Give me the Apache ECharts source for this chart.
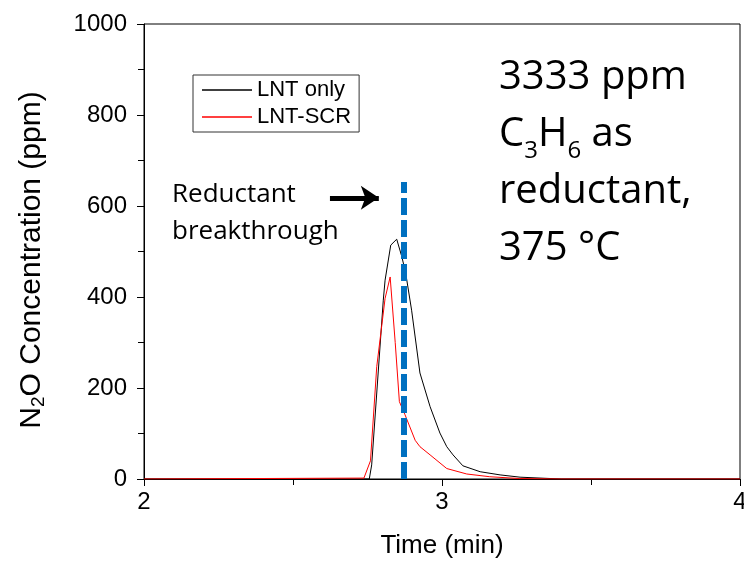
<!DOCTYPE html>
<html>
<head>
<meta charset="utf-8">
<script src="https://cdn.jsdelivr.net/npm/echarts@6/dist/echarts.min.js"></script>
<style>
html, body { margin: 0; padding: 0; background: #fff; }
#chartMain { width: 744px; height: 561px; }
</style>
</head>
<body>
<div id="chartMain"></div>
<script>
var myChart;
var option;

// LNT only (black)
var lntTime = [2, 2.756, 2.764, 2.803, 2.809, 2.828, 2.848, 2.865, 2.878, 2.898, 2.926, 2.960, 2.993, 3.016, 3.037, 3.070, 3.128, 3.195, 3.262, 3.40, 4];
var lntVals = [0, 0, 31, 393, 437, 514, 527, 489, 453, 371, 233, 159, 101, 71, 53, 29, 16, 9, 4, 0, 0];
// LNT-SCR (red)
var scrTime = [2, 2.738, 2.760, 2.781, 2.809, 2.826, 2.843, 2.857, 2.876, 2.910, 2.926, 2.960, 3.016, 3.083, 3.160, 3.260, 3.40, 4];
var scrVals = [0, 2, 40, 247, 397, 444, 300, 170, 141, 85, 71, 53, 23, 11, 5, 1, 0, 0];

var seriesNames = ['LNT only', 'LNT-SCR'];
var breakthroughTime = 2.872; // 还原剂穿透时刻
var breakthroughSpan = [0, 653];
var arrowFrom = [2.624, 618];
var arrowTo = [2.788, 618];

function pairs(xs, ys) {
	var out = [];
	for (var i = 0; i < xs.length; i++) {
		out.push([xs[i], ys[i]]);
	}
	return out;
}

var axisFont = 'Liberation Sans';
var noteFont = 'Open Sans';

myChart = echarts.init(document.getElementById('chartMain'));

option = {
	animation: false,
	backgroundColor: '#fff',
	grid: {
		left: 144, right: 4, top: 24, bottom: 82,
		outerBoundsMode: 'none',
		show: true, borderColor: '#000', borderWidth: 1
	},
	legend: {
		data: seriesNames,
		orient: 'vertical',
		left: 193, top: 75,
		padding: [4, 8, 4, 9],
		itemGap: 5,
		itemWidth: 50, itemHeight: 1.5,
		icon: 'rect',
		borderColor: '#333', borderWidth: 1,
		textStyle: { fontFamily: axisFont, fontSize: 22, lineHeight: 22, color: '#000' }
	},
	xAxis: {
		type: 'value',
		min: 2, max: 4, interval: 1,
		name: 'Time (min)',
		nameLocation: 'middle',
		nameGap: 54,
		nameTextStyle: { fontFamily: axisFont, fontSize: 26, color: '#000' },
		axisLine: { lineStyle: { color: '#000', width: 1 } },
		axisTick: { inside: false, length: 7, lineStyle: { color: '#000' } },
		minorTick: { show: true, splitNumber: 2, length: 6, lineStyle: { color: '#000' } },
		axisLabel: { fontFamily: axisFont, fontSize: 24, color: '#000', margin: 11 },
		splitLine: { show: false }
	},
	yAxis: {
		type: 'value',
		min: 0, max: 1000, interval: 200,
		axisLine: { lineStyle: { color: '#000', width: 1 } },
		axisTick: { inside: false, length: 7, lineStyle: { color: '#000' } },
		minorTick: { show: true, splitNumber: 2, length: 6, lineStyle: { color: '#000' } },
		axisLabel: {
			fontFamily: axisFont, fontSize: 24, color: '#000', margin: 17,
			formatter: function(v) { return String(v); }
		},
		splitLine: { show: false }
	},
	series: [
		{
			name: seriesNames[0],
			type: 'line',
			data: pairs(lntTime, lntVals),
			showSymbol: false,
			color: '#000',
			lineStyle: { color: '#000', width: 1 },
			z: 3
		},
		{
			name: seriesNames[1],
			type: 'line',
			data: pairs(scrTime, scrVals),
			showSymbol: false,
			color: '#ff0000',
			lineStyle: { color: '#ff0000', width: 1 },
			z: 4,
			markLine: {
				silent: true,
				animation: false,
				label: { show: false },
				data: [
					[
						{ coord: [breakthroughTime, breakthroughSpan[0]], symbol: 'none' },
						{ coord: [breakthroughTime, breakthroughSpan[1]], symbol: 'none',
							lineStyle: { color: '#0070c0', width: 6, type: [17, 5], cap: 'butt' } }
					],
					[
						{ coord: arrowFrom, symbol: 'none' },
						{ coord: arrowTo, symbol: 'arrow', symbolSize: [18, 18],
							lineStyle: { color: '#000', width: 5, type: 'solid' } }
					]
				]
			}
		}
	],
	graphic: [
		{
			type: 'text', x: 32, y: 260, rotation: Math.PI / 2,
			style: {
				text: 'N{sub|2}O Concentration (ppm)',
				fontFamily: axisFont, fontSize: 30, fill: '#000',
				align: 'center', verticalAlign: 'middle',
				rich: {
					sub: { fontFamily: axisFont, fontSize: 19, fill: '#000', verticalAlign: 'bottom', padding: [14, 0, 0, 0] }
				}
			}
		},
		{
			type: 'text', left: 172, top: 176,
			style: {
				text: 'Reductant\nbreakthrough',
				fontFamily: noteFont, fontSize: 26, lineHeight: 37, fill: '#000'
			}
		},
		{
			type: 'text', left: 499, top: 49,
			style: {
				text: '3333 ppm\nC{sub|3}H{sub|6} as\nreductant,\n375 °C',
				fontFamily: noteFont, fontSize: 40, lineHeight: 57, fill: '#000',
				rich: {
					sub: { fontFamily: noteFont, fontSize: 24, lineHeight: 57, verticalAlign: 'bottom', padding: [22, 0, 0, 0], fill: '#000' }
				}
			}
		}
	]
};

myChart.setOption(option);
</script>
</body>
</html>
